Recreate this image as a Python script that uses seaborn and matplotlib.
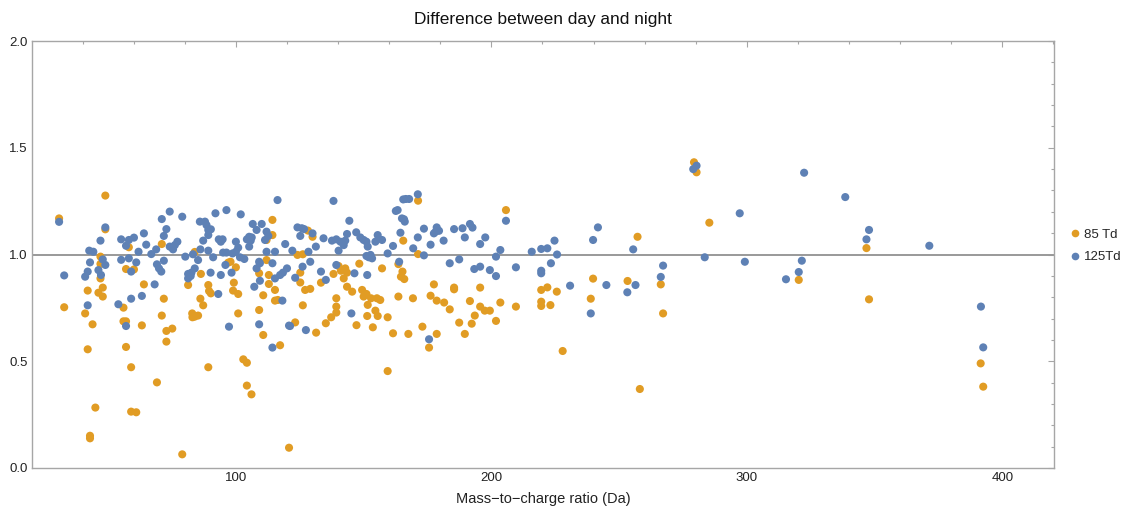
import numpy as np
import pandas as pd
import matplotlib
matplotlib.use("Agg")
import matplotlib.pyplot as plt
from matplotlib.ticker import MultipleLocator
import seaborn as sns

# Ratio of day to night signal versus m/z, two reduced-field settings
mz_85 = [30.8, 48.9, 32.8, 48.9, 47.0, 47.0, 47.0, 42.0, 47.9, 46.2, 47.9, 41.0, 43.9, 42.0,
         45.0, 42.9, 42.9, 58.1, 57.0, 60.1, 64.0, 56.0, 56.0, 57.0, 63.2, 57.0, 59.0, 59.0,
         61.0, 69.1, 71.0, 71.8, 71.0, 72.8, 75.1, 72.8, 79.0, 83.9, 81.3, 86.3, 89.2, 89.5,
         90.2, 86.1, 87.2, 82.9, 85.2, 83.9, 83.0, 89.2, 97.9, 97.0, 100.0, 99.2, 98.9, 100.9,
         100.9, 102.9, 104.3, 104.3, 106.1, 112.0, 114.3, 114.3, 112.0, 109.1, 112.9, 112.9,
         110.7, 115.3, 115.3, 116.4, 109.1, 110.7, 117.3, 120.8, 128.2, 130.0, 124.1, 126.2,
         125.2, 125.2, 127.1, 129.1, 126.2, 123.2, 131.4, 133.3, 135.2, 137.3, 139.3, 139.3,
         139.3, 138.2, 140.2, 141.1, 142.8, 143.5, 142.2, 148.3, 143.5, 145.5, 147.2, 149.4,
         151.1, 150.0, 151.6, 151.4, 153.6, 152.9, 155.2, 156.5, 154.6, 155.5, 157.2, 159.4,
         161.5, 159.4, 163.6, 165.2, 164.6, 165.9, 163.6, 167.5, 169.3, 165.5, 171.3, 171.3,
         173.0, 177.5, 176.2, 178.6, 181.5, 183.7, 185.4, 185.4, 191.6, 195.6, 195.6, 197.4,
         199.4, 203.5, 193.5, 187.4, 192.3, 189.6, 201.8, 209.6, 178.6, 175.6, 219.5, 221.9,
         219.5, 219.5, 223.1, 205.7, 225.6, 227.9, 239.8, 238.9, 253.3, 257.2, 258.1, 266.3,
         267.2, 279.3, 280.3, 285.3, 320.3, 346.8, 347.8, 391.5, 392.5]
ratio_85 = [1.169, 1.276, 0.753, 1.118, 0.990, 0.956, 0.888, 0.831, 0.845, 0.821, 0.803, 0.724,
            0.673, 0.556, 0.283, 0.151, 0.139, 1.034, 0.932, 0.930, 0.860, 0.751, 0.687, 0.687,
            0.668, 0.567, 0.472, 0.264, 0.261, 0.401, 1.049, 0.793, 0.714, 0.642, 0.653, 0.592,
            0.064, 1.012, 0.857, 0.909, 0.857, 0.829, 0.818, 0.793, 0.762, 0.724, 0.714, 0.709,
            0.706, 0.472, 0.966, 0.962, 0.940, 0.868, 0.831, 0.815, 0.724, 0.509, 0.493, 0.386,
            0.345, 1.068, 1.091, 1.162, 0.974, 0.912, 0.904, 0.862, 0.809, 0.834, 0.784, 0.787,
            0.740, 0.623, 0.575, 0.095, 1.112, 1.083, 0.998, 1.001, 0.915, 0.869, 0.834, 0.839,
            0.762, 0.682, 0.634, 0.868, 0.678, 0.706, 0.728, 0.756, 0.795, 0.909, 0.946, 0.924,
            0.935, 0.915, 0.888, 0.957, 0.849, 0.826, 0.669, 0.834, 0.815, 0.803, 0.764, 0.712,
            0.659, 0.795, 0.795, 0.787, 0.737, 0.712, 0.935, 0.706, 0.631, 0.454, 0.955, 0.920,
            0.896, 0.885, 0.803, 0.628, 0.795, 1.065, 1.252, 1.002, 0.662, 0.860, 0.807, 0.784,
            0.775, 0.743, 0.845, 0.837, 0.782, 0.845, 0.756, 0.737, 0.737, 0.775, 0.714, 0.681,
            0.676, 0.628, 0.689, 0.756, 0.628, 0.564, 0.834, 0.846, 0.779, 0.759, 0.763, 1.208,
            0.826, 0.548, 0.887, 0.793, 0.876, 1.083, 0.370, 0.860, 0.724, 1.432, 1.385, 1.149,
            0.881, 1.030, 0.790, 0.490, 0.381]

mz_125 = [30.8, 32.8, 48.9, 47.0, 42.6, 44.2, 42.9, 42.0, 41.0, 47.9, 48.9, 46.2, 47.2, 42.0,
          55.1, 58.1, 60.1, 57.0, 64.0, 64.9, 61.9, 66.9, 68.8, 55.1, 58.1, 61.0, 59.0, 68.2,
          63.2, 59.0, 54.0, 57.0, 71.0, 74.1, 79.0, 72.8, 71.8, 74.1, 75.4, 77.1, 76.1, 69.1,
          69.9, 70.8, 71.8, 80.2, 83.2, 85.9, 87.9, 88.5, 89.2, 90.2, 89.2, 87.2, 86.1, 89.2,
          85.2, 83.9, 82.6, 81.3, 81.3, 82.3, 91.1, 90.1, 93.1, 92.0, 96.3, 101.9, 93.3, 94.8,
          94.1, 95.0, 96.3, 94.1, 95.9, 98.3, 100.0, 100.9, 100.0, 98.7, 101.6, 103.3, 97.3,
          105.2, 106.2, 104.3, 105.8, 105.2, 106.6, 108.1, 110.1, 112.0, 112.7, 111.4, 112.0,
          115.3, 116.3, 119.3, 109.1, 108.1, 109.4, 114.3, 107.2, 109.4, 115.3, 117.3, 118.4,
          120.0, 118.2, 109.1, 114.3, 120.8, 122.1, 124.1, 125.8, 126.7, 125.2, 130.0, 128.4,
          131.3, 134.3, 138.2, 137.6, 139.3, 140.9, 142.8, 143.5, 142.2, 140.2, 144.4, 147.1,
          148.7, 150.0, 151.1, 151.6, 151.1, 152.7, 153.3, 152.0, 154.6, 155.5, 157.2, 159.4,
          161.5, 164.4, 163.3, 162.6, 165.8, 166.1, 165.0, 165.5, 166.5, 167.8, 171.2, 169.4,
          171.2, 123.2, 126.1, 129.1, 121.2, 127.4, 133.3, 135.2, 139.3, 146.4, 145.2, 151.4,
          163.9, 173.6, 173.6, 176.2, 177.5, 178.6, 179.5, 178.2, 181.3, 185.4, 188.7, 189.6,
          191.6, 192.6, 197.6, 195.6, 203.5, 201.8, 205.7, 183.7, 187.4, 193.3, 195.6, 199.4,
          201.8, 209.6, 215.8, 219.5, 221.9, 219.5, 219.5, 223.3, 175.6, 224.7, 225.7, 230.8,
          239.8, 241.7, 238.9, 245.0, 253.2, 256.4, 255.5, 267.2, 266.3, 280.3, 279.0, 283.5,
          297.2, 299.2, 322.4, 321.5, 320.3, 315.3, 338.5, 347.8, 346.8, 371.4, 391.6, 392.5]
ratio_125 = [1.153, 0.902, 1.127, 1.065, 1.018, 1.013, 0.963, 0.920, 0.896, 0.977, 0.951, 0.927,
             0.904, 0.762, 1.071, 1.068, 1.079, 1.041, 1.099, 1.046, 1.013, 1.002, 1.024, 0.975,
             0.982, 0.963, 0.920, 0.860, 0.806, 0.793, 0.767, 0.665, 1.166, 1.201, 1.177, 1.119,
             1.087, 1.037, 1.024, 1.060, 1.044, 0.954, 0.935, 0.920, 0.971, 0.990, 1.001, 1.154,
             1.154, 1.138, 1.115, 1.118, 1.091, 1.065, 1.024, 1.018, 0.974, 0.935, 0.915, 0.909,
             0.888, 0.899, 0.987, 0.915, 0.815, 1.193, 1.208, 1.188, 1.071, 1.071, 1.060, 1.009,
             1.009, 0.904, 0.951, 0.915, 1.060, 1.032, 1.013, 1.005, 0.987, 0.979, 0.662, 1.083,
             1.080, 1.071, 1.065, 1.037, 1.143, 1.115, 1.143, 1.107, 1.087, 1.068, 1.013, 1.013,
             1.255, 1.049, 0.966, 0.935, 0.959, 0.959, 0.849, 0.877, 0.888, 0.904, 0.915, 0.935,
             0.784, 0.673, 0.564, 0.667, 1.018, 1.127, 1.123, 1.119, 1.087, 1.099, 1.013, 1.037,
             1.076, 1.251, 1.065, 1.071, 1.060, 1.065, 1.096, 1.044, 1.018, 1.158, 1.104, 1.080,
             1.068, 1.060, 1.037, 0.993, 0.998, 0.982, 0.987, 1.060, 1.091, 1.068, 1.005, 1.040,
             1.102, 1.208, 1.204, 1.165, 1.154, 1.169, 1.258, 1.260, 1.260, 1.282, 1.029, 1.080,
             0.891, 0.943, 0.966, 0.665, 0.646, 0.920, 0.881, 0.951, 0.912, 0.724, 0.904, 0.966,
             1.121, 0.996, 1.046, 1.099, 1.127, 1.111, 1.107, 1.065, 1.119, 1.123, 1.080, 1.143,
             1.126, 1.080, 1.049, 1.021, 0.990, 1.158, 0.959, 0.977, 0.932, 0.943, 0.927, 0.899,
             0.940, 1.013, 1.026, 1.029, 0.924, 0.912, 0.959, 0.603, 1.065, 1.000, 0.854, 1.068,
             1.127, 0.724, 0.857, 0.823, 0.857, 1.024, 0.948, 0.895, 1.416, 1.400, 0.987, 1.193,
             0.966, 1.383, 0.971, 0.918, 0.884, 1.269, 1.115, 1.071, 1.041, 0.756, 0.565]

series_labels = ["85 Td", "125Td"]
series_colors = ["#E19C24", "#5E81B5"]

df = pd.concat([
    pd.DataFrame({"mz": mz_85, "ratio": ratio_85, "field": series_labels[0]}),
    pd.DataFrame({"mz": mz_125, "ratio": ratio_125, "field": series_labels[1]}),
], ignore_index=True)

sns.set_style("white")
plt.rcParams["font.family"] = ["Liberation Sans", "DejaVu Sans"]

fig = plt.figure(figsize=(11.25, 5.08), dpi=100)
ax = fig.add_axes([32 / 1125, 1 - 468 / 508, (1054 - 32) / 1125, (468 - 41) / 508])

frame_col = "#A6A6A6"
ax.axhline(1.0, color="#999999", lw=1.4, zorder=1)

sns.scatterplot(data=df, x="mz", y="ratio", hue="field", hue_order=series_labels,
                palette=series_colors, s=34, linewidth=0, alpha=1.0, ax=ax,
                legend=False, zorder=3)

ax.set_xlim(20.2, 420.2)
ax.set_ylim(0.0, 2.0)
ax.xaxis.set_major_locator(MultipleLocator(100))
ax.xaxis.set_minor_locator(MultipleLocator(20))
ax.yaxis.set_major_locator(MultipleLocator(0.5))
ax.yaxis.set_minor_locator(MultipleLocator(0.1))
ax.yaxis.set_major_formatter(matplotlib.ticker.FormatStrFormatter("%.1f"))

for sp in ax.spines.values():
    sp.set_color(frame_col)
    sp.set_linewidth(1.0)

ax.tick_params(which="both", direction="in", top=True, right=True, color=frame_col,
               labelsize=9.5, labelcolor="#222222", width=0.8)
ax.tick_params(which="major", length=4.5, pad=3)
ax.tick_params(which="minor", length=2.5)

ax.set_xlabel("Mass\u2212to\u2212charge ratio (Da)", fontsize=10.5, color="#222222", labelpad=6)
ax.set_ylabel("")
ax.set_title("Difference between day and night", fontsize=12.4, color="#111111", pad=12)

handles = [plt.Line2D([], [], marker="o", linestyle="none", markersize=5.5,
                      markerfacecolor=c, markeredgewidth=0) for c in series_colors]
ax.legend(handles, series_labels, loc="center left", bbox_to_anchor=(1.005, 0.52),
          frameon=False, fontsize=9.5, handletextpad=0.2, handlelength=1.0,
          labelspacing=0.75, borderaxespad=0.3)

fig.savefig("out.png", dpi=100)
